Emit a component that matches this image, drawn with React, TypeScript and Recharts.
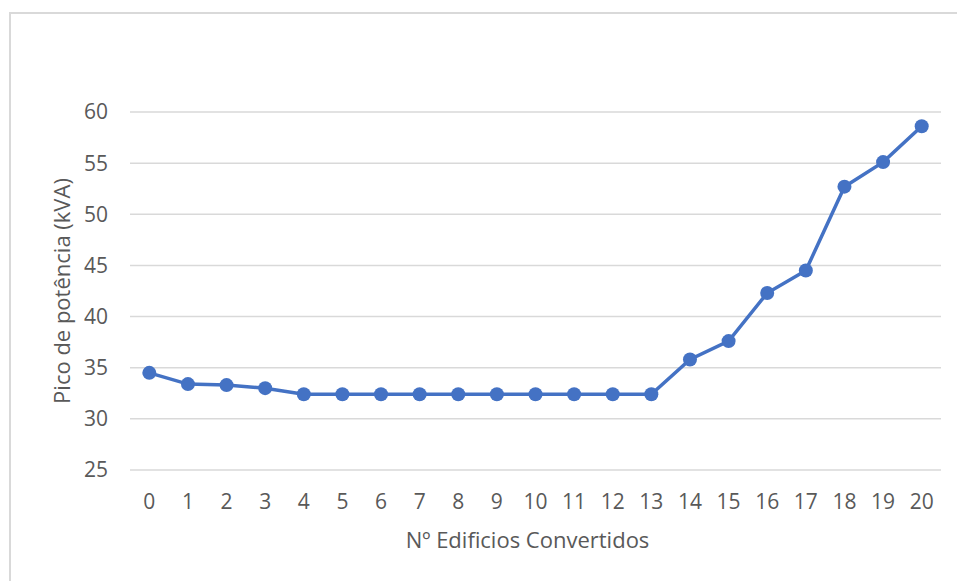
import React from "react";
import { LineChart, Line, XAxis, YAxis, CartesianGrid, Label } from "recharts";

const categories: string[] = ["0","1","2","3","4","5","6","7","8","9","10","11","12","13","14","15","16","17","18","19","20"];
const peakKVA: number[] = [34.5, 33.4, 33.3, 33.0, 32.4, 32.4, 32.4, 32.4, 32.4, 32.4, 32.4, 32.4, 32.4, 32.4, 35.8, 37.6, 42.3, 44.5, 52.7, 55.1, 58.6];
const yTicks: number[] = [25, 30, 35, 40, 45, 50, 55, 60];

const data = categories.map((c, i) => ({ name: c, value: peakKVA[i] }));

const FONT = "'Open Sans', sans-serif";
const TEXT = "#595959";

export default function App() {
  return (
    <div style={{ position: "absolute", left: 0, top: 0, width: 957, height: 581, overflow: "hidden", background: "#fff" }}>
      <div style={{ position: "absolute", left: 9, top: 12, width: 980, height: 620, border: "2px solid #d9d9d9", boxSizing: "border-box" }} />
      <div style={{ position: "absolute", left: 0, top: 0 }}>
        <LineChart width={957} height={581} data={data} margin={{ top: 112, right: 16, bottom: 0, left: 0 }}>
          <CartesianGrid vertical={false} stroke="#d9d9d9" strokeWidth={1.5} />
          <XAxis
            dataKey="name"
            type="category"
            axisLine={false}
            tickLine={false}
            tickSize={0}
            tickMargin={24}
            height={111}
            interval={0}
            padding={{ left: 19.3, right: 19.3 }}
            tick={{ fill: TEXT, fontSize: 21, fontFamily: FONT }}
          >
            <Label value="Nº Edificios Convertidos" position="center" dx={-8} dy={15} fill={TEXT} fontSize={22} fontFamily={FONT} />
          </XAxis>
          <YAxis
            type="number"
            domain={[25, 60]}
            ticks={yTicks}
            axisLine={false}
            tickLine={false}
            tickSize={0}
            tickMargin={22}
            width={130}
            tick={{ fill: TEXT, fontSize: 21, fontFamily: FONT }}
          >
            <Label value="Pico de potência (kVA)" position="center" angle={-90} dx={-3} fill={TEXT} fontSize={22} fontFamily={FONT} />
          </YAxis>
          <Line
            type="linear"
            dataKey="value"
            stroke="#4472C4"
            strokeWidth={3.5}
            dot={{ r: 7, fill: "#4472C4", stroke: "#4472C4", strokeWidth: 0 }}
            isAnimationActive={false}
          />
        </LineChart>
      </div>
    </div>
  );
}
